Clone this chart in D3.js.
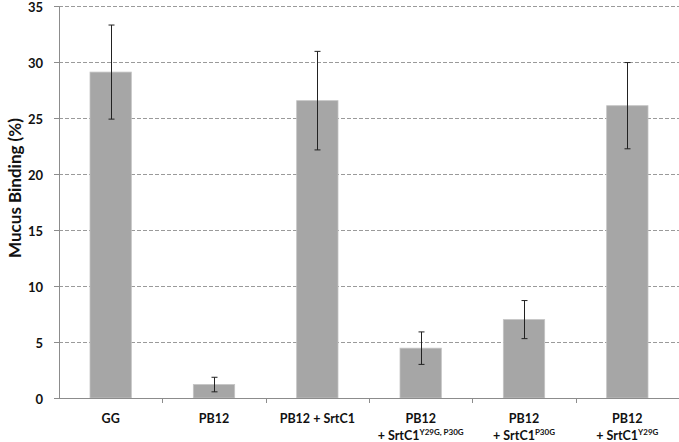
<!DOCTYPE html>
<html>
<head>
<meta charset="utf-8">
<style>
  body { margin: 0; background: #fff; }
  text { font-family: Lato, "Open Sans", sans-serif; font-weight: bold; fill: #111; }
</style>
</head>
<body>
<svg width="679" height="442"></svg>
<script src="https://cdnjs.cloudflare.com/ajax/libs/d3/7.8.5/d3.min.js"></script>
<script>

// data
var categories = ["GG", "PB12", "PB12 + SrtC1", "PB12 Y29G,P30G", "PB12 P30G", "PB12 Y29G"];
var labelLine1 = ["GG", "PB12", "PB12 + SrtC1", "PB12", "PB12", "PB12"];
var labelLine2 = ["", "", "", "+ SrtC1", "+ SrtC1", "+ SrtC1"];
var labelSup = ["", "", "", "Y29G, P30G", "P30G", "Y29G"];
var means = [29.1, 1.2, 26.55, 4.45, 7.0, 26.1];
var errors = [4.2, 0.65, 4.4, 1.45, 1.7, 3.85];
var yTicks = [0, 5, 10, 15, 20, 25, 30, 35];

var svg = d3.select("svg"),
  margin = { top: 6, right: 0, bottom: 44, left: 59 },
  width = +svg.attr("width") - margin.left - margin.right,
  height = +svg.attr("height") - margin.top - margin.bottom,
  g = svg.append("g").attr("transform", "translate(" + margin.left + "," + margin.top + ")");

var x = d3.scaleBand()
  .domain(categories)
  .range([0, width])
  .paddingInner(0.6)
  .paddingOuter(0.3);

var y = d3.scaleLinear()
  .domain([0, 35])
  .range([height, 0]);

// dashed gridlines
g.append("g")
  .selectAll("line")
  .data(yTicks.filter(function (d) { return d > 0; }))
  .enter().append("line")
  .attr("x1", 0)
  .attr("x2", width)
  .attr("y1", function (d) { return y(d) + 0.5; })
  .attr("y2", function (d) { return y(d) + 0.5; })
  .attr("stroke", "#9a9a9a")
  .attr("stroke-dasharray", "4,2");

// bars
g.selectAll(".bar")
  .data(means)
  .enter().append("rect")
  .attr("class", "bar")
  .attr("x", function (d, i) { return x(categories[i]); })
  .attr("y", function (d) { return y(d); })
  .attr("width", x.bandwidth())
  .attr("height", function (d) { return height - y(d); })
  .attr("fill", "#a6a6a6")
  .attr("stroke", "#c4c4c4")
  .attr("stroke-width", 0.8);

// error bars
var eb = g.selectAll(".err")
  .data(means)
  .enter().append("g")
  .attr("class", "err")
  .attr("transform", function (d, i) {
    return "translate(" + (Math.round(x(categories[i]) + x.bandwidth() / 2) + 0.5) + ",0)";
  });
eb.append("line")
  .attr("y1", function (d, i) { return y(d + errors[i]); })
  .attr("y2", function (d, i) { return y(d - errors[i]); })
  .attr("stroke", "#222");
eb.append("line")
  .attr("x1", -3).attr("x2", 3)
  .attr("y1", function (d, i) { return y(d + errors[i]); })
  .attr("y2", function (d, i) { return y(d + errors[i]); })
  .attr("stroke", "#222");
eb.append("line")
  .attr("x1", -3).attr("x2", 3)
  .attr("y1", function (d, i) { return y(d - errors[i]); })
  .attr("y2", function (d, i) { return y(d - errors[i]); })
  .attr("stroke", "#222");

// y axis
var yAxis = g.append("g")
  .call(d3.axisLeft(y).tickValues(yTicks).tickSize(5).tickSizeOuter(0).tickPadding(11));
yAxis.select(".domain").attr("stroke", "#8c8c8c");
yAxis.selectAll(".tick line").attr("stroke", "#8c8c8c");
yAxis.selectAll(".tick text")
  .style("font-size", "13px")
  .attr("dy", "0.4em")
  .attr("fill", "#111");

// x axis: ticks on category boundaries
var xAxis = g.append("g")
  .attr("transform", "translate(0," + height + ")");
xAxis.append("line")
  .attr("x1", 0).attr("x2", width)
  .attr("y1", 0.5).attr("y2", 0.5)
  .attr("stroke", "#8c8c8c");
xAxis.selectAll(".xt")
  .data(categories)
  .enter().append("line")
  .attr("class", "xt")
  .attr("x1", function (d) { return Math.round(x(d) + x.bandwidth() / 2 + x.step() / 2) + 0.5; })
  .attr("x2", function (d) { return Math.round(x(d) + x.bandwidth() / 2 + x.step() / 2) + 0.5; })
  .attr("y1", 0).attr("y2", 5)
  .attr("stroke", "#8c8c8c");

xAxis.selectAll(".lab")
  .data(categories)
  .enter().append("text")
  .attr("class", "lab")
  .attr("x", function (d) { return x(d) + x.bandwidth() / 2; })
  .attr("y", 25)
  .attr("text-anchor", "middle")
  .style("font-size", "12.5px")
  .text(function (d, i) { return labelLine1[i]; });

var lab2 = xAxis.selectAll(".lab2")
  .data(categories.filter(function (d, i) { return labelLine2[i]; }))
  .enter().append("text")
  .attr("class", "lab2")
  .attr("x", function (d) { return x(d) + x.bandwidth() / 2; })
  .attr("y", 42)
  .attr("text-anchor", "middle")
  .style("font-size", "12.5px");
lab2.append("tspan")
  .text(function (d) { return labelLine2[categories.indexOf(d)]; });
lab2.append("tspan")
  .attr("dy", -5)
  .style("font-size", "8px")
  .text(function (d) { return labelSup[categories.indexOf(d)]; });

// y title
svg.append("text")
  .attr("transform", "translate(21," + (margin.top + 182) + ") rotate(-90)")
  .attr("text-anchor", "middle")
  .style("font-size", "17px")
  .text("Mucus Binding (%)");

</script>
</body>
</html>
